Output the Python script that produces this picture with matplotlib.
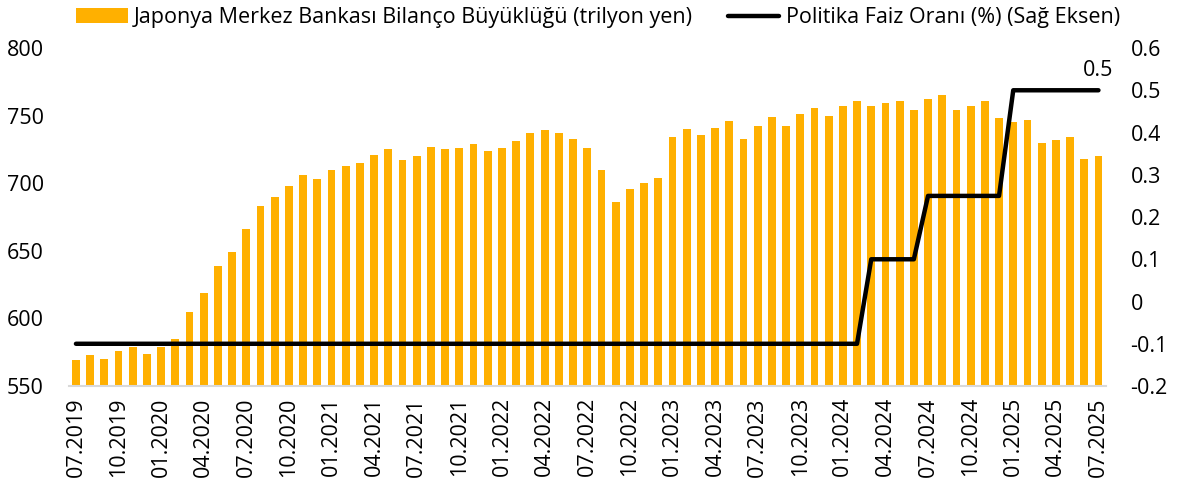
import matplotlib.pyplot as plt
import numpy as np

plt.rcParams['font.family'] = ['Open Sans', 'DejaVu Sans']

# months 07.2019 .. 07.2025
start_year, start_month = 2019, 7
n_months = 73
months = [f"{(start_month - 1 + i) % 12 + 1:02d}.{start_year + (start_month - 1 + i) // 12}"
          for i in range(n_months)]

# BoJ balance sheet (trillion yen)
balance_sheet = [569, 573, 570, 576, 579, 574, 579, 585, 605, 619,
                 639, 649, 666, 683, 690, 698, 706, 703, 710, 713,
                 715, 721, 725, 717, 720, 727, 725, 726, 729, 724,
                 726, 731, 737, 739, 737, 733, 726, 710, 686, 696,
                 700, 704, 734, 740, 736, 741, 746, 733, 742, 749,
                 742, 751, 756, 750, 757, 761, 757, 759, 761, 754,
                 762, 765, 754, 757, 761, 748, 745, 747, 730, 732,
                 734, 718, 720]

# policy rate (%)
policy_rate = [-0.1] * 56 + [0.1] * 4 + [0.25] * 6 + [0.5] * 7

bar_color = '#FFB000'
fs = 15.5

fig = plt.figure(figsize=(11.77, 4.91), dpi=100)
ax = fig.add_axes([0.0585, 0.2138, 0.8808, 0.6884])
ax2 = ax.twinx()

x = np.arange(n_months)
ax.bar(x, np.array(balance_sheet) - 550, bottom=550, width=0.55, color=bar_color,
       label='Japonya Merkez Bankası Bilanço Büyüklüğü (trilyon yen)', zorder=2)
ax2.plot(x, policy_rate, color='black', linewidth=3.2, solid_capstyle='round',
         label='Politika Faiz Oranı (%) (Sağ Eksen)', zorder=3)
ax2.annotate('0.5', (x[-1], policy_rate[-1]), xytext=(0, 7), textcoords='offset points',
             ha='center', va='bottom', fontsize=fs)

ax.set_xlim(-0.5, n_months - 0.5)
ax.set_ylim(550, 800)
ax2.set_ylim(-0.2, 0.6)
ax.set_yticks([550, 600, 650, 700, 750, 800])
ax2.set_yticks([-0.2, -0.1, 0, 0.1, 0.2, 0.3, 0.4, 0.5, 0.6])
ax2.set_yticklabels(['-0.2', '-0.1', '0', '0.1', '0.2', '0.3', '0.4', '0.5', '0.6'])

ax.set_xticks(x[::3])
ax.set_xticklabels(months[::3], rotation=90)

for a in (ax, ax2):
    for s in ['top', 'left', 'right', 'bottom']:
        a.spines[s].set_visible(False)
    a.tick_params(length=0, labelsize=fs, colors='black')
ax.spines['bottom'].set_visible(True)
ax.spines['bottom'].set_color('#d9d9d9')
ax.spines['bottom'].set_linewidth(1.5)
ax.tick_params(axis='y', pad=18)
ax.tick_params(axis='x', pad=8)
ax2.tick_params(axis='y', pad=18)

h1, l1 = ax.get_legend_handles_labels()
h2, l2 = ax2.get_legend_handles_labels()
fig.legend(h1 + h2, l1 + l2, loc='upper center', bbox_to_anchor=(0.508, 1.025), ncol=2,
           frameon=False, fontsize=fs, handlelength=2.4, columnspacing=1.6, handletextpad=0.3)

plt.savefig('out.png', dpi=100)
